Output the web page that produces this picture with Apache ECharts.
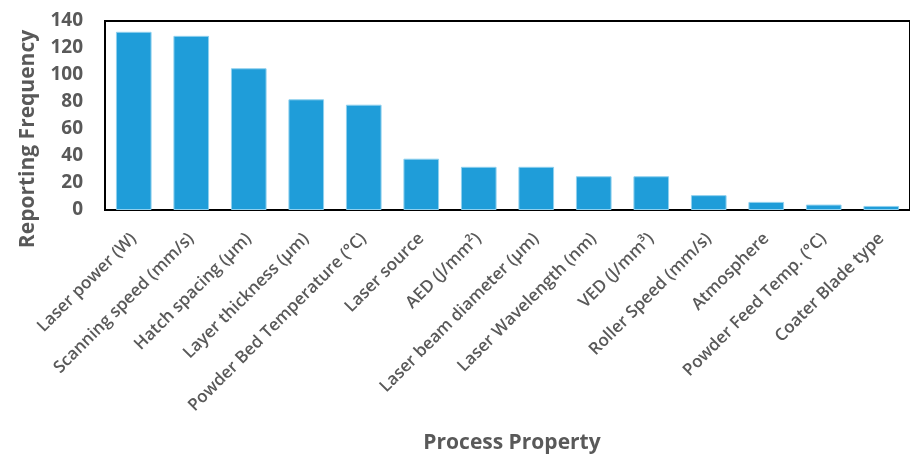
<!DOCTYPE html>
<html>
<head>
<meta charset="utf-8">
<script src="https://cdn.jsdelivr.net/npm/echarts@6/dist/echarts.min.js"></script>
<style>
  html, body { margin: 0; padding: 0; background: #fff; }
  #chart { width: 910px; height: 456px; }
</style>
</head>
<body>
<div id="chart"></div>
<script>
// Process properties and how often each is reported
const categories = [
  'Laser power (W)',
  'Scanning speed (mm/s)',
  'Hatch spacing (μm)',
  'Layer thickness (μm)',
  'Powder Bed Temperature (°C)',
  'Laser source',
  'AED (J/mm²)',
  'Laser beam diameter (μm)',
  'Laser Wavelength (nm)',
  'VED (J/mm³)',
  'Roller Speed (mm/s)',
  'Atmosphere',
  'Powder Feed Temp. (°C)',
  'Coater Blade type'
];
const frequency = [132, 129, 105, 82, 78, 38, 32, 32, 25, 25, 11, 6, 4, 3];
const yTicks = [0, 20, 40, 60, 80, 100, 120, 140];

const FONT = '"Open Sans", "DejaVu Sans", sans-serif';
const GREY = '#595959';

const chart = echarts.init(document.getElementById('chart'), null, { renderer: 'canvas' });

chart.setOption({
  animation: false,
  backgroundColor: '#ffffff',
  grid: {
    left: 105,
    top: 21,
    width: 805,
    height: 189,
    show: true,
    borderColor: '#000000',
    borderWidth: 2,
    backgroundColor: 'transparent'
  },
  xAxis: {
    type: 'category',
    data: categories,
    axisLine: { show: true, lineStyle: { color: '#000000', width: 2 } },
    axisTick: { show: false },
    axisLabel: {
      interval: 0,
      rotate: 45,
      margin: 26,
      color: GREY,
      fontFamily: FONT,
      fontWeight: 600,
      fontSize: 17
    }
  },
  yAxis: {
    type: 'value',
    min: yTicks[0],
    max: yTicks[yTicks.length - 1],
    interval: yTicks[1] - yTicks[0],
    splitLine: { show: false },
    axisLine: { show: true, lineStyle: { color: '#000000', width: 2 } },
    axisTick: { show: false },
    axisLabel: {
      margin: 22,
      color: GREY,
      fontFamily: FONT,
      fontWeight: 'bold',
      fontSize: 19
    }
  },
  series: [{
    type: 'bar',
    data: frequency,
    barCategoryGap: '38%',
    itemStyle: {
      color: '#1f9dd9',
      borderColor: '#8fd0ee',
      borderWidth: 1
    }
  }],
  graphic: [
    {
      type: 'text',
      x: 28,
      y: 139,
      rotation: Math.PI / 2,
      style: {
        text: 'Reporting Frequency',
        fill: GREY,
        font: 'bold 21px ' + FONT,
        align: 'center',
        verticalAlign: 'middle'
      }
    },
    {
      type: 'text',
      x: 512,
      y: 443,
      style: {
        text: 'Process Property',
        fill: GREY,
        font: 'bold 21px ' + FONT,
        align: 'center',
        verticalAlign: 'middle'
      }
    }
  ]
});
</script>
</body>
</html>
